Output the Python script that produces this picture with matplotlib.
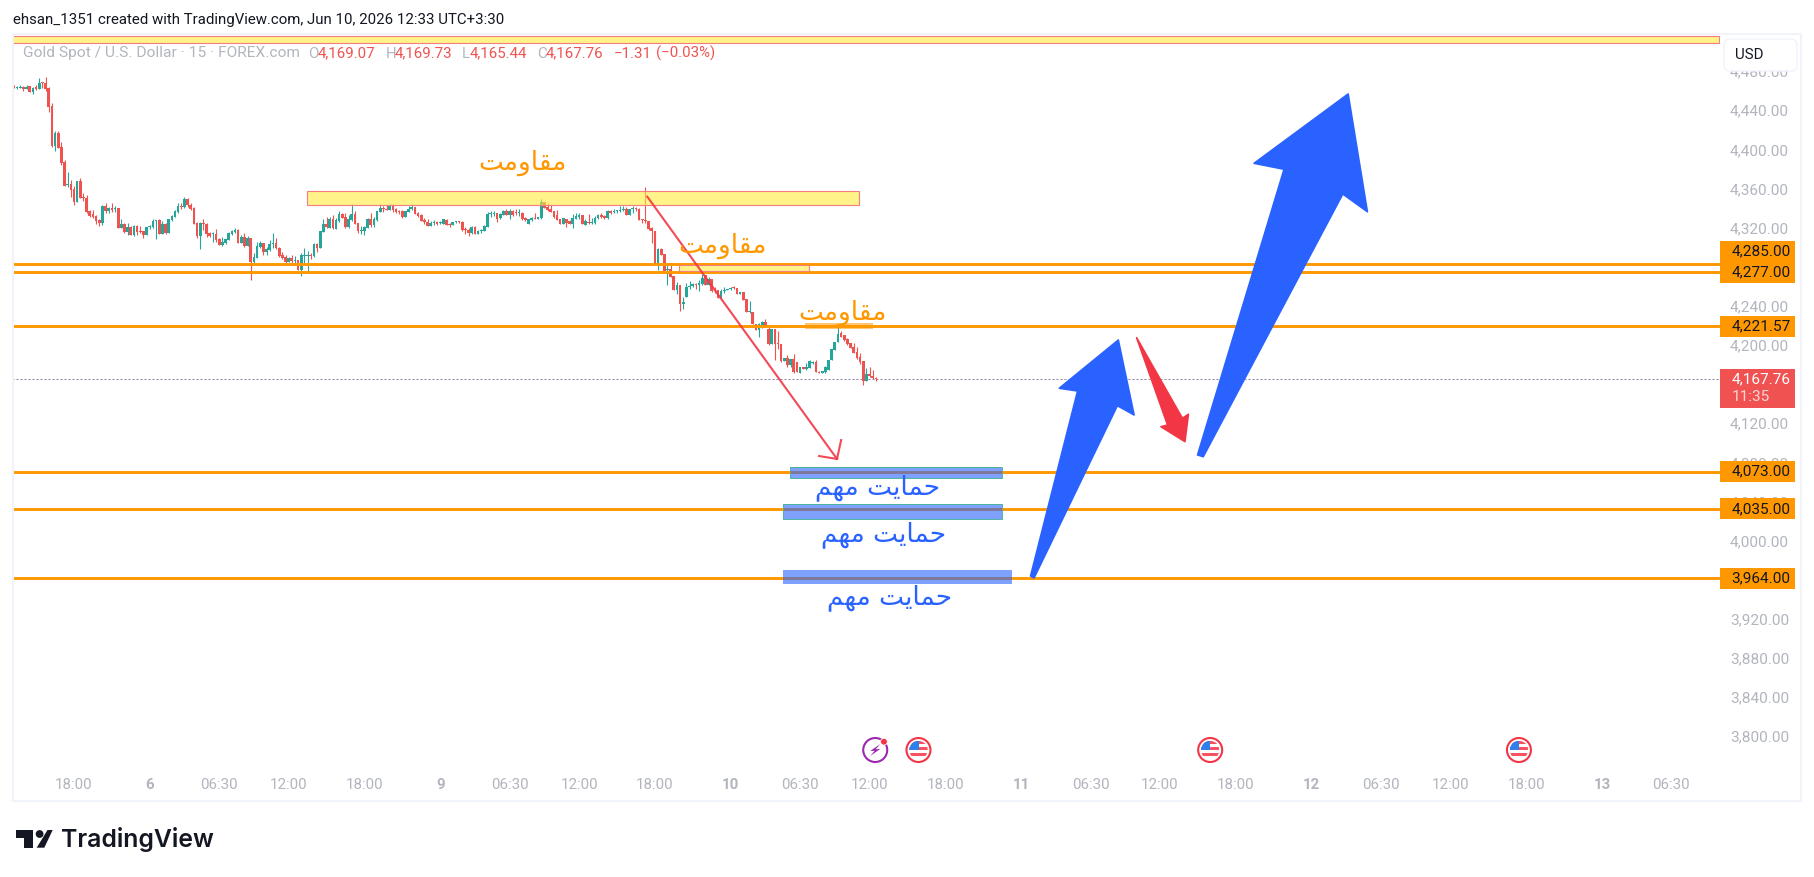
# -*- coding: utf-8 -*-
import numpy as np
import matplotlib
matplotlib.use('Agg')
import matplotlib.pyplot as plt
from matplotlib.patches import Rectangle, Polygon, Circle, FancyBboxPatch
from matplotlib.transforms import ScaledTranslation

opens = [
    4467.3,4465.6,4465.6,4466.3,4464.6,4467.3,4461.5,4466,4464.2,4470.7,
    4470.4,4465.3,4446.9,4406,4419.3,4404.6,4389.6,4366.1,4366.8,4361.7,
    4348.7,4370.2,4353.5,4352.8,4339.5,4336.4,4334.4,4330.3,4327.2,4344.6,
    4339.9,4342.2,4341.6,4342.6,4322.5,4326.6,4318,4323.5,4315,4324.5,
    4318.7,4318.7,4315,4322.8,4323.5,4329,4330.3,4316,4326.6,4317,
    4330,4333.7,4338.5,4344.3,4344,4351.8,4346,4342.6,4327.6,4314,
    4326.9,4326.6,4316.7,4315.7,4316,4310.9,4304.8,4306.5,4309.9,4316,
    4318,4320.1,4306.8,4312.9,4303.7,4311.9,4287.4,4291.5,4302.7,4306.8,
    4297.6,4299.6,4306.1,4306.8,4301.7,4294.5,4292.5,4287.4,4291.5,4288.7,
    4289.4,4279.2,4293.5,4293.8,4294.2,4293.5,4305.8,4301.7,4318.4,4326.2,
    4322.5,4331,4321.4,4329,4336.4,4333.7,4322.8,4330.3,4336.4,4326.9,
    4319.4,4319,4322.5,4331.3,4325.2,4330.3,4338.8,4342.6,4341.6,4340.9,
    4344.6,4341.6,4339.2,4339.5,4333.7,4338.8,4341.2,4343.6,4337.5,4335.4,
    4330.3,4327.9,4324.5,4326.9,4327.9,4327.2,4326.6,4330.3,4325.9,4325.5,
    4327.9,4328.9,4328.6,4320.4,4320.1,4316.7,4323.5,4316.3,4318.7,4319.4,
    4323.1,4336,4336.8,4337.1,4332,4335.8,4339.5,4335.4,4339.5,4338.1,
    4337.8,4337.8,4332.3,4326.6,4330.3,4332.3,4331.7,4332,4349,4343.3,
    4341.2,4339.2,4335.4,4331,4326.2,4331,4329.6,4326.2,4331.7,4333.7,
    4335.4,4325.5,4328.6,4327.2,4326.9,4332,4335.1,4334.4,4332.3,4339.8,
    4338.5,4339.2,4339.8,4340.5,4341.6,4335.8,4341.2,4341.9,4341.9,4331,
    4330.3,4329.6,4321.8,4319.1,4284.4,4300.7,4295.6,4279.3,4280.3,4273.1,
    4258.8,4263.9,4244.5,4251.7,4262.2,4262.9,4265.3,4263.9,4264.6,4273.8,
    4263.9,4270.4,4258.8,4258.5,4251,4258.1,4258.8,4259.5,4261.9,4260.9,
    4254.7,4256.8,4249.3,4236.3,4236.7,4224.4,4217.9,4220.6,4226.1,4219.3,
    4203.9,4219.3,4204.3,4203.3,4186.2,4189,4182.1,4187.9,4185.5,4173.6,
    4179.7,4178.4,4179.4,4183.8,4185.5,4175.3,4173.9,4174.6,4177,4186.9,
    4197.5,4205.3,4214.5,4212.5,4208.7,4204.6,4200.2,4195.4,4190.3,4186.2,
    4166.1,4172.9,4171.2,4169.07]
highs = [
    4468,4467.3,4468.3,4467.3,4468.3,4467.3,4466,4468.3,4475.5,4471.7,
    4476.5,4466.6,4449.6,4421.3,4421.3,4410.4,4391.7,4379.4,4371.2,4365,
    4370.2,4373.3,4357.6,4355.9,4340.5,4340.5,4335.4,4331.7,4346,4347.4,
    4343.9,4347.4,4344.6,4342.6,4331,4327.6,4326.9,4324.5,4325.5,4325.5,
    4324.2,4319.1,4323.5,4325.5,4331.7,4330,4331.3,4329.3,4327.6,4331.7,
    4335.4,4340.5,4347.4,4347.4,4353.8,4352.8,4347.4,4343.9,4328.6,4328.3,
    4331,4326.9,4318,4318.4,4320.8,4312.3,4312.6,4310.9,4318,4320.1,
    4321.8,4320.8,4314.6,4316.7,4314,4311.9,4296.9,4307.8,4308.5,4306.8,
    4302.4,4309.9,4317,4311.9,4302.4,4297.6,4294.5,4292.1,4294.5,4293.9,
    4289.4,4296.6,4302,4299,4296.9,4306.5,4306.5,4319.5,4331.3,4333.7,
    4333,4335.4,4332,4339.5,4337.8,4337.1,4335.4,4346.7,4339.8,4326.9,
    4324.2,4324.2,4332,4337.8,4333.7,4339.8,4346.7,4344.6,4345.6,4346.7,
    4346.7,4342.6,4340.5,4340.5,4339.8,4344.6,4346.7,4343.6,4338.5,4336.4,
    4332.3,4331.3,4329.6,4330.3,4328.9,4329.3,4331.7,4331,4326.9,4328.6,
    4328.9,4329.6,4329.3,4322.8,4322.1,4324.2,4324.5,4320.1,4321.4,4324.9,
    4338.5,4339.8,4339.2,4337.8,4337.1,4340.5,4341.6,4341.9,4340.5,4341.6,
    4341.2,4338.5,4333,4331.3,4333.7,4337.8,4333.7,4351.8,4349,4348,
    4345.6,4339.8,4340.5,4331,4332.7,4331.3,4330.3,4336.8,4337.1,4337.1,
    4335.4,4331,4336.4,4332,4334.4,4336.4,4337.8,4335.4,4340.5,4340.5,
    4341.2,4340.5,4344.6,4345,4343.9,4341.9,4344.6,4343.9,4342.2,4331,
    4364.4,4329.6,4322.8,4319.1,4302.1,4302.1,4295.6,4286.1,4286.1,4273.1,
    4267,4263.9,4252,4265.6,4268.4,4266.3,4266.3,4269,4275.2,4273.8,
    4271.8,4270.4,4262.2,4258.5,4259.5,4262.2,4260.2,4261.9,4262.6,4260.9,
    4256.8,4256.8,4249.3,4247.2,4236.7,4224.4,4225.4,4227.1,4229.2,4221.3,
    4219.3,4219.3,4217.2,4203.3,4189,4192.4,4188.6,4193,4185.5,4179.7,
    4179.7,4183.8,4187.2,4186.2,4187.2,4176,4175.6,4181.1,4186.9,4198.5,
    4206,4222,4216.6,4212.8,4210.1,4204.6,4204.6,4200.9,4194.7,4186.2,
    4178.7,4179.7,4176.7,4169.73]
lows = [
    4465,4463.9,4464.9,4462.2,4463.9,4461.5,4459.1,4463.2,4464.2,4464.9,
    4462.2,4440.7,4405.3,4401.2,4403.6,4386.5,4365,4364.4,4353.5,4346,
    4348.7,4352.5,4349.4,4337.1,4333.7,4332,4326.6,4324.5,4325.5,4337.8,
    4337.8,4338.8,4338.5,4322.5,4322.5,4317.4,4315.3,4315,4314,4315,
    4317.4,4312.3,4315,4321.1,4321.8,4310.9,4316,4316,4316,4317,
    4329.3,4333,4337.8,4341.6,4342.9,4344,4340.5,4326.6,4312.3,4300.7,
    4320,4313.3,4312.6,4307.8,4308.2,4304.8,4303.7,4305.8,4309.5,4314.6,
    4316.7,4306.5,4306.5,4303,4303.7,4269,4285.3,4291.5,4302,4294.2,
    4294.5,4299,4301.3,4300.7,4292.8,4290.4,4286.4,4287.4,4286.4,4285.3,
    4279.2,4273,4286,4276.8,4290.4,4293,4297.6,4301.7,4317.7,4322.5,
    4321.8,4321.1,4320.8,4328.6,4332,4322.5,4322.5,4329.6,4325.9,4316.7,
    4316,4315,4321.8,4323.5,4323.5,4329.6,4338.1,4338.5,4340.5,4340.5,
    4338.8,4337.1,4336.4,4332.3,4333.7,4338.5,4340.5,4336.4,4333.7,4328.9,
    4326.2,4324.2,4324.2,4325.5,4325.2,4325.9,4325.9,4325.2,4323.1,4324.9,
    4326.9,4326.9,4319.4,4316.3,4314.3,4315.6,4315.6,4315.6,4317.4,4319,
    4323.1,4333.7,4334.7,4328.6,4331,4335.4,4335.4,4331.3,4334.7,4335.4,
    4334.4,4330.6,4328.9,4325.9,4329.6,4331,4331.7,4331.7,4342.2,4339.8,
    4338.1,4332,4330.3,4326.2,4325.9,4323.5,4325.9,4322.1,4331,4331.7,
    4326.2,4325.2,4326.2,4326.2,4326.2,4331.3,4332.7,4331.3,4331.7,4336.4,
    4337.1,4337.8,4338.8,4339.2,4335.4,4335.4,4337.8,4339.8,4330.3,4327.6,
    4326.9,4320.1,4307.1,4284.4,4279.3,4294.3,4278.2,4263.9,4271.8,4258.8,
    4254.7,4237.7,4239,4251.7,4259.5,4261.5,4259.5,4258.1,4263.9,4263.9,
    4263.9,4257.1,4255.4,4251,4250.6,4256.1,4258.5,4258.5,4259.5,4254.7,
    4254.7,4248.6,4236,4235,4223.7,4217.9,4211.1,4219.6,4220.6,4202.9,
    4203.9,4187.2,4198.8,4185.5,4186.2,4180.4,4180.4,4173.6,4174.6,4173.6,
    4178,4177,4179,4183.2,4174.6,4173.6,4173.9,4173.6,4177,4186.9,
    4197.5,4205.3,4210.4,4207,4202.6,4199.2,4194,4188.3,4183.2,4161.7,
    4166.1,4169.5,4167.8,4165.44]
closes = [
    4465,4466.3,4466.3,4464.2,4466.6,4461.5,4465.3,4464.2,4470.4,4470,
    4464.2,4446.2,4406,4419.3,4404.3,4388.9,4365,4367.1,4361,4348.7,
    4370.2,4352.8,4352.5,4338.5,4334.7,4333.7,4329.3,4327.2,4345,4339.5,
    4342.2,4340.9,4342.2,4322.5,4326.6,4318,4323.2,4315,4324.2,4318.4,
    4318,4315,4322.8,4324.2,4329.3,4330,4316,4326.2,4317,4331.3,
    4334.4,4339.5,4345,4344,4351.8,4345.3,4341.6,4326.6,4314,4327.6,
    4326.6,4316,4314.3,4316.3,4309.9,4304.8,4307.8,4310.6,4317,4319.1,
    4320.1,4307.1,4312.9,4303.7,4311.9,4287.4,4292.1,4303.7,4306.8,4297.6,
    4301,4305.8,4306.8,4301.3,4293.5,4291.5,4287.4,4291.1,4288.1,4289.4,
    4279.2,4294.5,4294.2,4294.2,4293.5,4305.8,4301.7,4319,4326.2,4323.5,
    4331,4322.5,4330.6,4336.4,4332.7,4323.1,4331,4336.4,4326.6,4319,
    4320.1,4323.5,4331.3,4325.2,4331.3,4339.2,4342.6,4341.6,4340.9,4344.6,
    4340.5,4338.5,4338.5,4333.7,4339.5,4341.6,4343.6,4336.4,4334.4,4329.3,
    4327.9,4324.5,4326.9,4327.9,4326.2,4327.9,4331,4325.5,4325.2,4328.6,
    4328.6,4327.9,4320.1,4319.7,4317.4,4323.1,4316,4319.4,4320.1,4324.2,
    4336.4,4337.1,4337.8,4331.7,4336,4339.5,4335.8,4339.5,4335.4,4337.5,
    4338.5,4331.3,4330,4331,4332,4331.7,4333.7,4348.4,4342.9,4340.5,
    4338.5,4333,4330.6,4326.2,4332,4326.9,4326.2,4332.3,4334.4,4335.4,
    4326.2,4329.6,4326.9,4327.9,4332.7,4335.4,4333.7,4332.3,4339.2,4337.1,
    4339.8,4339.8,4340.9,4341.6,4335.8,4341.6,4341.6,4341.2,4330.3,4330.3,
    4329.3,4320.8,4319.4,4284.4,4300.7,4294.9,4278.6,4280.3,4272.4,4258.8,
    4263.6,4244.5,4246.2,4262.2,4263.2,4265,4263.6,4265.6,4271.1,4263.9,
    4270.4,4258.1,4257.8,4251,4258.1,4258.8,4259.5,4260.9,4260.9,4254.7,
    4256.4,4248.6,4236,4237,4223.7,4217.9,4224,4226.4,4221.3,4203.9,
    4219.3,4203.9,4203.3,4186.2,4189,4182.1,4187.9,4174.6,4174.6,4179.7,
    4178,4180.4,4186.2,4185.5,4174.6,4173.9,4175.6,4180.4,4186.9,4198.5,
    4206,4213.8,4211.1,4207.7,4203.3,4199.2,4194.7,4189,4185.5,4166.1,
    4172.9,4170.9,4168.5,4167.76]

time_bars = [19,43,65,87,111,135,157,179,203,227,249,271,295,319,341,363,387,411,433,455,479,503,525]
time_labels = ['18:00','6','06:30','12:00','18:00','9','06:30','12:00','18:00','10','06:30','12:00',
               '18:00','11','06:30','12:00','18:00','12','06:30','12:00','18:00','13','06:30']
day_labels = ['6','9','10','11','12','13']
# 3960, 4160 and 4280 sit fully behind the price tags in the original
price_ticks = [3800,3840,3880,3920,4000,4040,4080,4120,4200,4240,4320,4360,4400,4440,4480]

level_prices = [4285,4277,4221.57,4073,4035,3964]
level_labels = ['4,285.00','4,277.00','4,221.57','4,073.00','4,035.00','3,964.00']
level_tag_centers = [4298,4277,4221.57,4073,4035,3964]
last_price = 4167.76

resist_text = 'مقاومت'
support_text = 'حمایت مهم'
resist_pos = [(161.2,4388.6),(224.3,4303.8),(262.3,4235.2)]
support_pos = [(273.4,4056.8),(275.3,4008.7),(277.3,3944.3)]

# drawings on the chart, (bar, price)
big_arrow = [(422.6,4459.2),(392.8,4388.3),(402.3,4382.2),(374.9,4090.1),(376.7,4088.3),(420.9,4356.9),(428.7,4338.8)]
small_arrow = [(349.8,4207.6),(331.1,4158.3),(336.9,4155.5),(322,3966.3),(323.1,3964.3),(349.5,4140.5),(354.8,4131)]
red_arrow = [(355.6,4210),(365.4,4120.7),(363.3,4119),(370.9,4103.7),(372,4131.7),(370.1,4127.6)]
trend_line = [(200.6,4354.2),(260.7,4086)]
trend_head = [(255,4089),(260.7,4086),(262,4105.4)]

event_bars = [286.5,378.9,476.7]
bolt_bar = 272.8

legend_parts = [('Gold Spot / U.S. Dollar · 15 · FOREX.com','#b2b5be',23,11.15),('O','#b2b5be',308,10.8),('4,169.07','#ef5350',318,10.8),
                ('H','#b2b5be',385.5,10.8),('4,169.73','#ef5350',395,10.8),('L','#b2b5be',462,10.8),('4,165.44','#ef5350',470,10.8),
                ('C','#b2b5be',537,10.8),('4,167.76','#ef5350',545.5,10.8),('−1.31','#ef5350',614,10.8),('(−0.03%)','#ef5350',656,10.8)]

# contextual forms, index 0 alone, 1 end, 2 start, 3 middle
AR_FORMS = {'م':(0xFEE1,0xFEE2,0xFEE3,0xFEE4),'ق':(0xFED5,0xFED6,0xFED7,0xFED8),'ا':(0xFE8D,0xFE8E,0xFE8D,0xFE8E),
            'و':(0xFEED,0xFEEE,0xFEED,0xFEEE),'ت':(0xFE95,0xFE96,0xFE97,0xFE98),'ح':(0xFEA1,0xFEA2,0xFEA3,0xFEA4),
            'ی':(0xFBFC,0xFBFD,0xFBFE,0xFBFF),'ه':(0xFEE9,0xFEEA,0xFEEB,0xFEEC)}
NO_LEFT_JOIN = 'او'


def shape_word(word):
    out = ''
    for n, ch in enumerate(word):
        after_join = n > 0 and word[n-1] not in NO_LEFT_JOIN
        before_join = n < len(word)-1 and ch not in NO_LEFT_JOIN
        out += chr(AR_FORMS[ch][(1 if after_join else 0) + (2 if before_join else 0)])
    return out[::-1]


def shape(text):
    return ' '.join(shape_word(w) for w in text.split(' ')[::-1])


plt.rcParams['font.family'] = ['Roboto', 'DejaVu Sans']
GREEN = '#26a69a'
RED = '#ef5350'
ORANGE = '#ff9800'
BLUE = '#2962ff'
GRAY = '#b2b5be'
W, H = 1814, 877
PX_BAR = 3.157
PX_PRICE = 0.978

fig = plt.figure(figsize=(W/100, H/100), dpi=100, facecolor='white')
ax = fig.add_axes([13/W, 1-770/H, (1719.5-13)/W, (770-35)/H])
ax.set_xlim((13-14)/PX_BAR, (1719.5-14)/PX_BAR)
ax.set_ylim(last_price+(379-770)/PX_PRICE, last_price+(379-35)/PX_PRICE)
for s in ax.spines.values():
    s.set_visible(False)
ax.set_axisbelow(True)

ax.set_xticks(time_bars)
ax.set_xticklabels(time_labels)
ax.tick_params(axis='x', length=0, pad=5.5, labelsize=10.8, labelcolor=GRAY)
for lab in ax.get_xticklabels():
    if lab.get_text() in day_labels:
        lab.set_fontweight('bold')
ax.yaxis.tick_right()
ax.set_yticks(price_ticks)
ax.set_yticklabels(['{:,.2f}'.format(p) for p in price_ticks])
ax.tick_params(axis='y', length=0, pad=7.5, labelsize=11.1, labelcolor=GRAY)
nudge = ScaledTranslation(0, 1.8/72, fig.dpi_scale_trans)
for lab in ax.get_yticklabels():
    lab.set_transform(lab.get_transform() + nudge)

# candles
bars = np.arange(len(closes))
o, h, l, c = map(np.array, (opens, highs, lows, closes))
cols = np.where(c >= o, GREEN, RED)
ax.vlines(bars, l, h, colors=cols, lw=0.8, zorder=2)
ax.bar(bars, np.maximum(np.abs(c-o), 1.0), bottom=np.minimum(o, c), width=0.84, color=cols, linewidth=0, zorder=2.1)

# last price dots come out red and blue side by side
ax.axhline(last_price, color=RED, lw=0.72, ls=(0, (1, 3)), zorder=1.9)
ax.axhline(last_price, color='#2f80d8', lw=0.72, ls=(1, (1, 3)), zorder=1.9)
for p in level_prices:
    ax.axhline(p, color=ORANGE, lw=2.1, zorder=3)

# boxes
for (x0, x1, y0, y1) in [(92.8,267.7,4345.7,4360.3),(210.6,251.8,4277.9,4284.3),(-0.32,540.2,4511,4518.8)]:
    ax.add_patch(Rectangle((x0, y0), x1-x0, y1-y0, fc='#ffeb3b', alpha=0.6, ec='none', zorder=3.2))
    ax.add_patch(Rectangle((x0, y0), x1-x0, y1-y0, fc='none', ec='#f77c80', lw=0.8, zorder=3.3))
ax.add_patch(Rectangle((250.6, 4218.9), 21.5, 6.1, fc=ORANGE, alpha=0.55, ec='none', zorder=3.2))
for (x0, x1, y0, y1, edge) in [(245.8,313,4066.8,4077.8,'#4cb5a0'),(243.6,313,4024.9,4039.9,'#4cb5a0'),(243.6,316.1,3958.5,3972.5,'none')]:
    ax.add_patch(Rectangle((x0, y0), x1-x0, y1-y0, fc=BLUE, alpha=0.6, ec='none', zorder=3.4))
    if edge != 'none':
        ax.add_patch(Rectangle((x0, y0), x1-x0, y1-y0, fc='none', ec=edge, lw=0.7, zorder=3.5))

# trend line with open head
ax.plot(*zip(*trend_line), color='#f23645', lw=1.5, alpha=0.9, zorder=4)
ax.plot(*zip(*trend_head), color='#f23645', lw=1.5, alpha=0.9, zorder=4)

# big arrows
for pts, col in [(big_arrow, BLUE), (small_arrow, BLUE), (red_arrow, '#f23645')]:
    ax.add_patch(Polygon(pts, closed=True, fc=col, ec=col, lw=1.2, joinstyle='round', zorder=4.5))

for (x, y) in resist_pos:
    ax.text(x, y, shape(resist_text), family='DejaVu Sans', fontsize=19, color=ORANGE, ha='center', va='center', zorder=5)
for (x, y) in support_pos:
    ax.text(x, y, shape(support_text), family='DejaVu Sans', fontsize=19, color=BLUE, ha='center', va='center', zorder=5)

# price tags on the scale
trans = ax.get_yaxis_transform()
for lab, mid in zip(level_labels, level_tag_centers):
    ax.add_patch(Rectangle((1.0003, mid-10.9), 0.0439, 21.8, fc=ORANGE, ec='none', transform=trans, clip_on=False, zorder=6))
    ax.text(1.0069, mid+1.5, lab, color='#131722', fontsize=11.1, va='center_baseline', transform=trans, clip_on=False, zorder=7)
ax.add_patch(Rectangle((1.0003, 4138), 0.0439, 40, fc='#f05252', ec='none', transform=trans, clip_on=False, zorder=6))
ax.text(1.0069, last_price+1.5, '4,167.76', color='white', fontsize=11.1, va='center_baseline', transform=trans, clip_on=False, zorder=7)
ax.text(1.0069, 4150.5, '11:35', color='#fbd5d5', fontsize=11.1, va='center_baseline', transform=trans, clip_on=False, zorder=7)

# page furniture in pixel coordinates
page = fig.add_axes([0, 0, 1, 1], zorder=5)
page.set_xlim(0, W)
page.set_ylim(H, 0)
page.axis('off')
page.patch.set_alpha(0)

page.add_patch(Rectangle((13, 34), 1788, 767, fc='none', ec='#f0f3fa', lw=1.5))
page.text(13, 20, 'ehsan_1351 created with TradingView.com, Jun 10, 2026 12:33 UTC+3:30', color='#131722',
          fontsize=10.8, va='center')
for txt, col, xpos, size in legend_parts:
    page.text(xpos, 53.5, txt, color=col, fontsize=size, va='center')

page.add_patch(FancyBboxPatch((1727, 42), 67, 26, boxstyle='round,pad=3,rounding_size=6', fc='white', ec='#f0f3fa', lw=1))
page.text(1735, 55, 'USD', color='#131722', fontsize=10.8, ha='left', va='center')

# event icons
ICON_Y = 750


def bar_px(b):
    return 14 + PX_BAR*b


bx = bar_px(bolt_bar)
page.add_patch(Circle((bx, ICON_Y), 12, fc='white', ec='#9c27b0', lw=1.5))
page.add_patch(Circle((bx+8.7, ICON_Y-8.3), 3.4, fc='#f23645', ec='white', lw=0.6))
page.add_patch(Polygon([(bx+5, ICON_Y-6), (bx-5, ICON_Y+1), (bx-0.5, ICON_Y+0.8), (bx-5, ICON_Y+6),
                        (bx+5, ICON_Y-1), (bx+0.5, ICON_Y-0.8)], fc='#9c27b0', ec='none'))
for b in event_bars:
    fx = bar_px(b)
    page.add_patch(Circle((fx, ICON_Y), 12, fc='white', ec='#f23645', lw=1.5))
    clip = Circle((fx, ICON_Y), 9.2, fc='white', ec='none')
    page.add_patch(clip)
    for ys in (-9.2, -3.2, 3.0):
        r = Rectangle((fx-9.2, ICON_Y+ys), 18.4, 3.0, fc='#f7525f', ec='none')
        page.add_patch(r)
        r.set_clip_path(clip)
    r = Rectangle((fx-9.2, ICON_Y-9.2), 9.5, 9.6, fc='#2f80ed', ec='none')
    page.add_patch(r)
    r.set_clip_path(clip)

# TradingView mark
LOGO = '#131722'
page.add_patch(Rectangle((15.7, 830), 17.5, 7.7, fc=LOGO, ec='none'))
page.add_patch(Rectangle((24, 830), 9.3, 17.7, fc=LOGO, ec='none'))
page.add_patch(Circle((39.6, 834), 3.9, fc=LOGO, ec='none'))
page.add_patch(Polygon([(47.5, 830), (52.7, 830), (44.3, 847.7), (36.7, 847.7)], fc=LOGO, ec='none'))
page.text(61.5, 839.5, 'TradingView', family='Inter', fontweight=600, fontsize=17.85, color=LOGO, va='center')

fig.savefig('out.png', dpi=100)
